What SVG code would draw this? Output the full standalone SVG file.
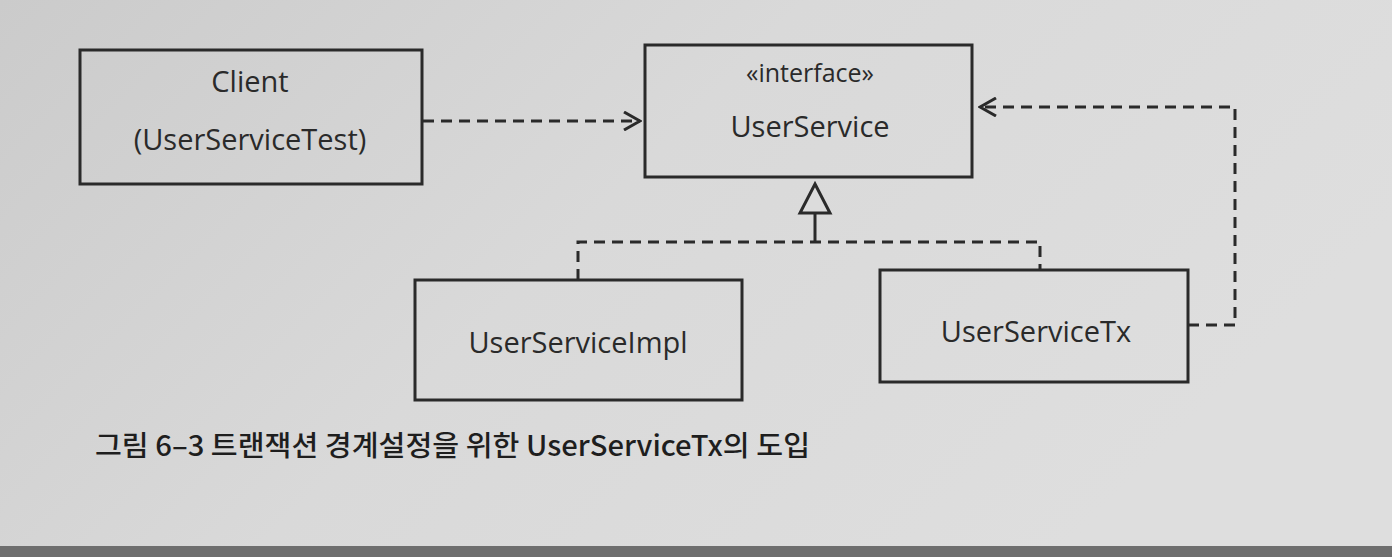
<svg xmlns="http://www.w3.org/2000/svg" width="1392" height="557" viewBox="0 0 1392 557">
<defs>
<linearGradient id="bg" x1="0" y1="0" x2="1" y2="0.4">
<stop offset="0" stop-color="#cbcbcb"/>
<stop offset="0.5" stop-color="#d9d9d9"/>
<stop offset="1" stop-color="#dedede"/>
</linearGradient>
<marker id="open" viewBox="0 0 20 20" refX="18" refY="10" markerWidth="20" markerHeight="20" markerUnits="userSpaceOnUse" orient="auto">
<path d="M2,1 L18,10 L2,19" fill="none" stroke="#2a2a2a" stroke-width="3"/>
</marker>
</defs>
<style>
.box{fill:none;stroke:#2a2a2a;stroke-width:3}
.dash{fill:none;stroke:#2a2a2a;stroke-width:3;stroke-dasharray:11 7}
.lbl{font-family:"Open Sans","Noto Sans",sans-serif;font-size:29px;fill:#2a2a2a;text-anchor:middle}
.cap{font-family:"Noto Sans CJK KR","Noto Sans",sans-serif;font-size:28px;font-weight:500;fill:#1e1e1e}
</style>
<rect width="1392" height="557" fill="url(#bg)"/>
<rect x="0" y="546" width="1392" height="11" fill="#6e6e6e"/>
<g id="connectors">
<path class="dash" d="M423,121 L640,121" marker-end="url(#open)"/>
<path class="dash" d="M1188,325 L1235,325 L1235,107 L980,107" marker-end="url(#open)"/>
<path class="dash" d="M578,280 L578,242 L1040,242 L1040,270"/>
<path class="dash" d="M815,242 L815,213" style="stroke-dasharray:none"/>
<path d="M815,184 L830,213 L800,213 Z" fill="#dcdcdc" stroke="#2a2a2a" stroke-width="3"/>
</g>
<g id="client">
<rect class="box" x="80" y="50" width="342" height="134"/>
<text class="lbl" x="250" y="92">Client</text>
<text class="lbl" x="250" y="150">(UserServiceTest)</text>
</g>
<g id="userservice">
<rect class="box" x="645" y="45" width="327" height="132"/>
<text class="lbl" x="810" y="82" style="font-size:25px">«interface»</text>
<text class="lbl" x="810" y="137">UserService</text>
</g>
<g id="impl">
<rect class="box" x="415" y="280" width="327" height="120"/>
<text class="lbl" x="578" y="353">UserServiceImpl</text>
</g>
<g id="tx">
<rect class="box" x="880" y="270" width="308" height="112"/>
<text class="lbl" x="1036" y="342">UserServiceTx</text>
</g>
<text class="cap" x="95" y="456" textLength="715" lengthAdjust="spacingAndGlyphs">그림 6–3 트랜잭션 경계설정을 위한 UserServiceTx의 도입</text>
</svg>
